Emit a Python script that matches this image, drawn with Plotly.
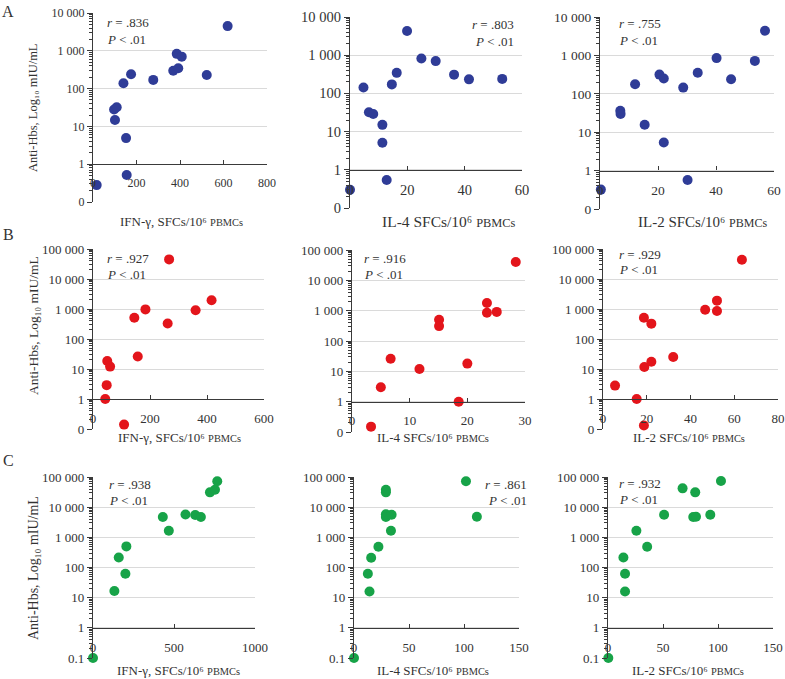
import plotly.graph_objects as go

W, H = 785, 679

# ---------------- data ----------------
A_ifn_x = [17, 155, 152, 101, 97, 109, 140, 175, 277, 369, 392, 385, 408, 523, 619]
A_ifn_y = [0.28, 0.52, 4.9, 14.8, 28, 32, 138, 240, 170, 296, 345, 830, 700, 230, 4500]
A_il4_x = [0, 12.8, 11.3, 11.3, 6.6, 8.1, 4.7, 14.6, 16.3, 19.9, 24.9, 29.9, 36.3, 41.5, 53.1]
A_il4_y = [0.3, 0.54, 5.1, 15, 32, 29, 142, 172, 345, 4300, 820, 700, 310, 233, 240]
A_il2_x = [0.3, 30.2, 22, 15.4, 7, 7.1, 12.1, 20.5, 22, 28.7, 33.7, 40.2, 45.2, 53.4, 56.9]
A_il2_y = [0.32, 0.57, 5.4, 15.7, 36, 30, 178, 316, 250, 145, 355, 850, 240, 720, 4400]

B_ifn_x = [109, 43, 48, 50, 60, 157, 145, 184, 262, 267, 360, 416]
B_ifn_y = [0.14, 1, 2.9, 18.5, 12, 26, 510, 970, 330, 45000, 910, 1950]
B_il4_x = [3.3, 5.0, 6.7, 11.7, 15.1, 15.1, 18.5, 20.0, 23.4, 23.4, 25.1, 28.4]
B_il4_y = [0.15, 3.0, 26, 12, 500, 310, 1, 18, 1800, 850, 910, 40000]
B_il2_x = [18.7, 5.5, 15.4, 18.9, 22.1, 32.1, 18.7, 22.1, 46.7, 52.1, 52.1, 63.5]
B_il2_y = [0.13, 2.8, 1, 11.7, 17.5, 25, 510, 325, 950, 860, 1900, 44000]

C_ifn_x = [0, 132, 200, 159, 206, 431, 468, 571, 631, 666, 722, 753, 767]
C_ifn_y = [0.1, 16.6, 62, 214, 500, 4700, 1660, 5700, 5500, 4700, 31000, 38000, 72000]
C_il4_x = [0, 14.1, 12.6, 15.6, 22.2, 33.6, 29, 29, 34.2, 111.7, 29, 29, 101.8]
C_il4_y = [0.1, 16, 62, 210, 490, 1650, 5800, 4700, 5600, 4800, 38000, 31000, 72000]
C_il2_x = [0.3, 15.5, 15.5, 14, 35.6, 25.8, 51, 77.5, 80, 93, 67.8, 79.3, 102.7]
C_il2_y = [0.1, 16, 62, 215, 490, 1650, 5600, 4700, 4800, 5600, 42000, 31000, 74000]

r_values = [".836", ".803", ".755", ".927", ".916", ".929", ".938", ".861", ".932"]
p_text = "< .01"

x_titles = ["IFN-γ, SFCs/10⁶ <span style='font-size:{s}px'>PBMCs</span>",
            "IL-4 SFCs/10⁶ <span style='font-size:{s}px'>PBMCs</span>",
            "IL-2 SFCs/10⁶ <span style='font-size:{s}px'>PBMCs</span>"]
y_title = "Anti-Hbs, Log₁₀ mIU/mL"
row_letters = ["A", "B", "C"]

x_ticks = [[0, 200, 400, 600, 800], [0, 20, 40, 60], [0, 20, 40, 60],
           [0, 200, 400, 600], [0, 10, 20, 30], [0, 20, 40, 60, 80],
           [0, 500, 1000], [0, 50, 100, 150], [0, 50, 100, 150]]

BLUE, RED, GREEN = "#2F3C97", "#E3151B", "#17A348"

xs = [A_ifn_x, A_il4_x, A_il2_x, B_ifn_x, B_il4_x, B_il2_x, C_ifn_x, C_il4_x, C_il2_x]
ys = [A_ifn_y, A_il4_y, A_il2_y, B_ifn_y, B_il4_y, B_il2_y, C_ifn_y, C_il4_y, C_il2_y]
colors = [BLUE] * 3 + [RED] * 3 + [GREEN] * 3

# ---------------- layout geometry (pixels) ----------------
boxes = [(93, 267, 13, 202), (350, 522, 17, 208), (600, 774, 17, 209),
         (93, 264, 249, 429), (352, 525, 250, 432), (603, 778, 249, 429),
         (93, 255, 477, 658), (354, 519, 477, 658), (608, 773, 477, 658)]
tick_fs = [12, 14.5, 13.5, 13, 13, 13, 13, 13, 13]
title_fs = [13, 15.5, 15, 13, 13, 13, 13, 13, 13]
xtitle_pos = [(181, 222), (449, 222), (702, 222),
              (179, 437), (433, 437), (689, 437),
              (178, 670), (433, 670), (688, 670)]
rpos = [(105, 23, "left"), (516, 25, "right"), (617, 24, "left"),
        (105, 258, "left"), (362, 258, "left"), (617, 254, "left"),
        (107, 484, "left"), (529, 484, "right"), (617, 483, "left")]
ytitle_pos = [(33, 108, 12.5), (33, 326, 13.5), (33, 568, 14)]
letter_pos = [(8, 11), (8, 234), (8, 460)]

FONT = "Liberation Serif, Times New Roman, serif"
AX = "#3a3a3a"


def fx(px):
    return px / W


def fy(py):
    return 1 - py / H


fig = go.Figure()
layout = dict(template="none", width=W, height=H, autosize=False,
              margin=dict(l=0, r=0, t=0, b=0, pad=0),
              paper_bgcolor="white", plot_bgcolor="white", showlegend=False,
              separators=". ",
              font=dict(family=FONT, color="#333333"))
annotations = []

for i in range(9):
    xl, xr, yt, yb = boxes[i]
    top = 4 if i < 3 else 5
    yfmt = ",~g" if i >= 6 else ",d"
    minor_vals = [m * 10 ** k for k in range(-1, top) for m in range(2, 10)]
    n = i + 1
    xa = "xaxis" if n == 1 else f"xaxis{n}"
    ya = "yaxis" if n == 1 else f"yaxis{n}"
    xref = "x" if n == 1 else f"x{n}"
    yref = "y" if n == 1 else f"y{n}"
    ya_m = f"yaxis{n + 10}"
    yref_m = f"y{n + 10}"
    py1 = yb - (yb - yt) / (top + 1)
    layout[xa] = dict(domain=[fx(xl), fx(xr)], anchor="free", position=fy(py1),
                      automargin=False,
                      range=[0, x_ticks[i][-1]], tickmode="array", tickvals=x_ticks[i],
                      showgrid=False, zeroline=False, showline=True,
                      linecolor=AX, linewidth=1.3, ticks="inside", ticklen=4,
                      tickwidth=1, tickcolor=AX, ticklabelstandoff=7,
                      tickfont=dict(size=tick_fs[i], family=FONT, color="#333"),
                      fixedrange=True)
    layout[ya] = dict(domain=[fy(yb), fy(yt)], anchor=xref, type="log",
                      automargin=False,
                      range=[-1, top], tickmode="linear", tick0=0, dtick=1,
                      tickformat=yfmt,
                      showgrid=True, gridcolor="#DADADA", gridwidth=1,
                      zeroline=False, showline=True, linecolor=AX, linewidth=1.3,
                      ticks="outside", ticklen=5, tickwidth=1, tickcolor=AX,
                      tickfont=dict(size=tick_fs[i], family=FONT, color="#333"),
                      fixedrange=True)
    # overlay axis that only carries the minor (log) tick marks
    layout[ya_m] = dict(overlaying=yref, anchor=xref, side="left", type="log",
                        automargin=False, range=[-1, top],
                        tickmode="array", tickvals=minor_vals,
                        showticklabels=False, showgrid=False, zeroline=False,
                        showline=False, ticks="outside", ticklen=3, tickwidth=1,
                        tickcolor=AX, fixedrange=True)
    fig.add_trace(go.Scatter(x=[], y=[], mode="markers", xaxis=xref, yaxis=yref_m,
                             hoverinfo="skip"))
    fig.add_trace(go.Scatter(x=xs[i], y=ys[i], mode="markers", xaxis=xref, yaxis=yref,
                             cliponaxis=False, hoverinfo="skip",
                             marker=dict(size=10, color=colors[i], line=dict(width=0))))
    # r / P annotations
    rx, ry, ra = rpos[i]
    annotations.append(dict(x=fx(rx), y=fy(ry), xref="paper", yref="paper",
                            text=f"<i>r</i> = {r_values[i]}", showarrow=False,
                            xanchor=ra, yanchor="middle",
                            font=dict(size=13, family=FONT, color="#333")))
    annotations.append(dict(x=fx(rx), y=fy(ry + 16), xref="paper", yref="paper",
                            text=f"<i>P</i> {p_text}", showarrow=False,
                            xanchor=ra, yanchor="middle",
                            font=dict(size=13, family=FONT, color="#333")))
    # x titles
    tx, ty = xtitle_pos[i]
    annotations.append(dict(x=fx(tx), y=fy(ty), xref="paper", yref="paper",
                            text=x_titles[i % 3].format(s=round(title_fs[i] * 0.8, 1)),
                            showarrow=False, xanchor="center", yanchor="middle",
                            font=dict(size=title_fs[i], family=FONT, color="#333")))

for r in range(3):
    px, py, fs = ytitle_pos[r]
    annotations.append(dict(x=fx(px), y=fy(py), xref="paper", yref="paper",
                            text=y_title, textangle=-90, showarrow=False,
                            xanchor="center", yanchor="middle",
                            font=dict(size=fs, family=FONT, color="#333")))
    lx, ly = letter_pos[r]
    annotations.append(dict(x=fx(lx), y=fy(ly), xref="paper", yref="paper",
                            text=row_letters[r], showarrow=False,
                            xanchor="center", yanchor="middle",
                            font=dict(size=16, family=FONT, color="#333")))

layout["annotations"] = annotations
fig.update_layout(**layout)
fig.write_html("out.html", config={"displayModeBar": False},
               post_script="document.body.style.margin='0';document.body.style.overflow='hidden';")
